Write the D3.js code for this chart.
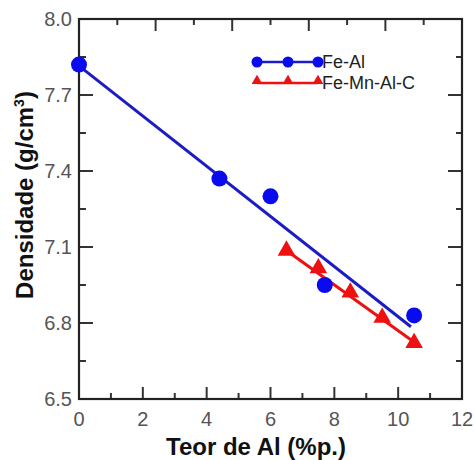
<!DOCTYPE html>
<html>
<head>
<meta charset="utf-8">
<script src="https://cdn.jsdelivr.net/npm/d3@7"></script>
<style>
  body { margin: 0; background: #fff; }
  svg { display: block; }
</style>
</head>
<body>
<div id="chart"></div>
<script>
// dados
var feAlX = [0, 4.4, 6.0, 7.7, 10.5];
var feAlY = [7.82, 7.37, 7.30, 6.95, 6.83];
var feMnX = [6.5, 7.5, 8.5, 9.5, 10.5];
var feMnY = [7.09, 7.02, 6.925, 6.825, 6.725];
// retas de ajuste (extremos)
var feAlFitX = [0, 10.4];
var feAlFitY = [7.815, 6.785];
var feMnFitX = [6.4, 10.55];
var feMnFitY = [7.095, 6.72];
var seriesNames = ["Fe-Al", "Fe-Mn-Al-C"];
var xTicks = [0, 2, 4, 6, 8, 10, 12];
var yTicks = [6.5, 6.8, 7.1, 7.4, 7.7, 8.0];

var W = 475, H = 460;
var pL = 79, pR = 462, pT = 19, pB = 399;
var blue = "#0a0aee", blueLine = "#1c1cc4", red = "#ee1111";

var x = d3.scaleLinear().domain([0, 12]).range([pL, pR]);
var y = d3.scaleLinear().domain([6.5, 8.0]).range([pB, pT]);
var xTop = d3.scaleLinear().domain([0, 10]).range([pL, pR]);

var svg = d3.select("#chart").append("svg")
  .attr("width", W)
  .attr("height", H)
  .style("font-family", "'Liberation Sans', Arial, sans-serif");

// ticks (para dentro)
var tickColor = "#333";
function minorsOf(ticks){
  var m = [];
  for(var i=0;i<ticks.length-1;i++) m.push((ticks[i]+ticks[i+1])/2);
  return m;
}
var xMinor = minorsOf(xTicks), yMinor = minorsOf(yTicks);

var ticks = svg.append("g").attr("stroke", tickColor).attr("stroke-width", 2);
xTicks.forEach(function(v){
  ticks.append("line").attr("x1", x(v)).attr("x2", x(v)).attr("y1", pB).attr("y2", pB-12);
});
xMinor.forEach(function(v){
  ticks.append("line").attr("x1", x(v)).attr("x2", x(v)).attr("y1", pB).attr("y2", pB-6);
});
d3.range(1, 10).forEach(function(k){
  ticks.append("line").attr("x1", xTop(k)).attr("x2", xTop(k)).attr("y1", pT).attr("y2", pT + (k%2===0 ? 12 : 6));
});
yTicks.forEach(function(v){
  ticks.append("line").attr("x1", pL).attr("x2", pL+14).attr("y1", y(v)).attr("y2", y(v));
  ticks.append("line").attr("x1", pR).attr("x2", pR-14).attr("y1", y(v)).attr("y2", y(v));
});
yMinor.forEach(function(v){
  ticks.append("line").attr("x1", pL).attr("x2", pL+7).attr("y1", y(v)).attr("y2", y(v));
  ticks.append("line").attr("x1", pR).attr("x2", pR-6).attr("y1", y(v)).attr("y2", y(v));
});

// moldura
svg.append("rect")
  .attr("x", pL).attr("y", pT)
  .attr("width", pR-pL).attr("height", pB-pT)
  .attr("fill", "none")
  .attr("stroke", "#222")
  .attr("stroke-width", 2.2);

// rotulos dos ticks
svg.append("g").selectAll("text").data(xTicks).enter().append("text")
  .attr("x", function(d){return x(d);})
  .attr("y", 426)
  .attr("text-anchor", "middle")
  .attr("font-size", 20)
  .attr("fill", "#555")
  .text(function(d){return d;});

svg.append("g").selectAll("text").data(yTicks).enter().append("text")
  .attr("x", 72)
  .attr("y", function(d){return y(d)+7;})
  .attr("text-anchor", "end")
  .attr("font-size", 20)
  .attr("fill", "#555")
  .text(function(d){return d3.format(".1f")(d);});

// titulos
svg.append("text")
  .attr("x", 256).attr("y", 455)
  .attr("text-anchor", "middle")
  .attr("font-size", 24)
  .attr("font-weight", "bold")
  .attr("fill", "#111")
  .text("Teor de Al (%p.)");

var yt = svg.append("text")
  .attr("transform", "translate(33,195) rotate(-90)")
  .attr("text-anchor", "middle")
  .attr("font-size", 24)
  .attr("font-weight", "bold")
  .attr("fill", "#111");
yt.append("tspan").text("Densidade (g/cm");
yt.append("tspan").attr("font-size", 14).attr("dy", -9).text("3");
yt.append("tspan").attr("dy", 9).text(")");

// retas de ajuste
var line = d3.line().x(function(d){return x(d[0]);}).y(function(d){return y(d[1]);});
svg.append("path")
  .datum(d3.zip(feAlFitX, feAlFitY))
  .attr("d", line)
  .attr("fill", "none").attr("stroke", blueLine).attr("stroke-width", 3);
svg.append("path")
  .datum(d3.zip(feMnFitX, feMnFitY))
  .attr("d", line)
  .attr("fill", "none").attr("stroke", red).attr("stroke-width", 3);

// pontos
svg.append("g").selectAll("circle").data(d3.zip(feAlX, feAlY)).enter().append("circle")
  .attr("cx", function(d){return x(d[0]);})
  .attr("cy", function(d){return y(d[1]);})
  .attr("r", 8)
  .attr("fill", blue);

var tri = d3.symbol().type(d3.symbolTriangle).size(135);
svg.append("g").selectAll("path").data(d3.zip(feMnX, feMnY)).enter().append("path")
  .attr("d", tri)
  .attr("transform", function(d){return "translate(" + x(d[0]) + "," + (y(d[1])+1) + ")";})
  .attr("fill", red);

// legenda
var legX = [257, 288, 318];
var leg = svg.append("g");
leg.append("line").attr("x1", legX[0]).attr("x2", legX[2]).attr("y1", 62).attr("y2", 62)
  .attr("stroke", blueLine).attr("stroke-width", 2.5);
legX.forEach(function(lx){
  leg.append("circle").attr("cx", lx).attr("cy", 62).attr("r", 5.5).attr("fill", blue);
});
leg.append("line").attr("x1", legX[0]).attr("x2", legX[2]).attr("y1", 83).attr("y2", 83)
  .attr("stroke", red).attr("stroke-width", 2.5);
var triSmall = d3.symbol().type(d3.symbolTriangle).size(50);
legX.forEach(function(lx){
  leg.append("path").attr("d", triSmall).attr("transform", "translate(" + lx + ",81)").attr("fill", red);
});
leg.selectAll("text").data(seriesNames).enter().append("text")
  .attr("x", 322)
  .attr("y", function(d, i){return 68 + i*21;})
  .attr("font-size", 18)
  .attr("fill", "#222")
  .text(function(d){return d;});
</script>
</body>
</html>
